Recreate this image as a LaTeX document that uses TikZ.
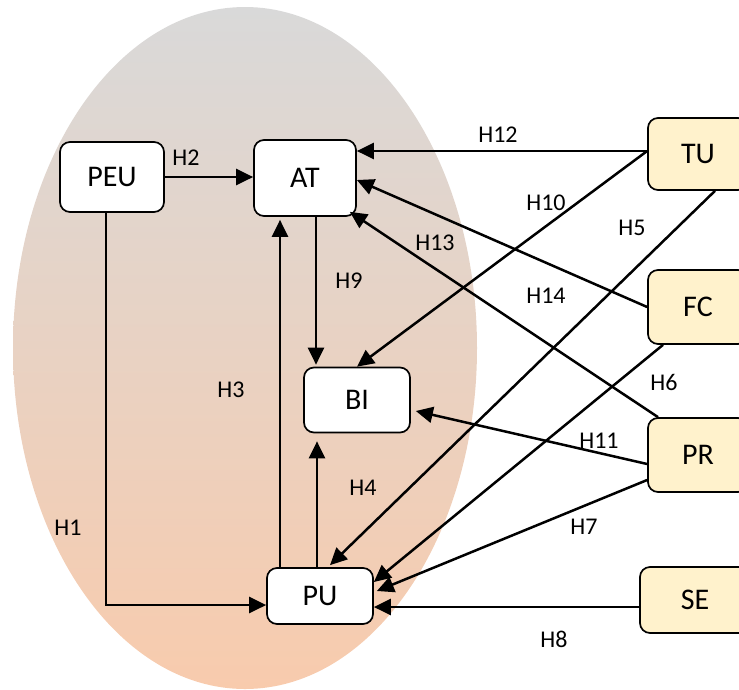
\documentclass[tikz,border=0pt]{standalone}
\usepackage{fontspec}
\setmainfont{Carlito}
\usetikzlibrary{arrows.meta,positioning,calc}
\definecolor{fog}{HTML}{D9D9D9}
\definecolor{peach}{HTML}{F8CBAD}
\definecolor{cream}{HTML}{FFF2CC}

\begin{document}
\begin{tikzpicture}[x=1pt,y=-1pt,
  box/.style={draw,line width=1.7pt,rounded corners=10pt,fill=white,font=\fontsize{30}{32}\selectfont},
  ext/.style={box,fill=cream,minimum width=100pt},
  arr/.style={-{Triangle[length=17pt,width=16pt]},line width=2.5pt},
  hyp/.style={font=\fontsize{24}{26}\selectfont}]
  \useasboundingbox (0,0) rectangle (739,689);
  \shade[top color=fog,bottom color=peach] (245,348) ellipse [x radius=232, y radius=341];
  % constructs
  \node[box,minimum width=104pt,minimum height=70pt] (PEU) at (112,177) {PEU};
  \node[box,minimum width=102pt,minimum height=76pt] (AT) at (305,178) {AT};
  \node[box,minimum width=106pt,minimum height=65pt] (BI) at (357,400) {BI};
  \node[box,minimum width=106pt,minimum height=56pt] (PU) at (320,596) {PU};
  \node[ext,minimum height=72pt] (TU) at (698,154) {TU};
  \node[ext,minimum height=74pt] (FC) at (698,307) {FC};
  \node[ext,minimum height=74pt] (PR) at (698,455) {PR};
  \node[ext,minimum width=110pt,minimum height=66pt] (SE) at (695,600) {SE};
  % paths
  \draw[arr] (PEU.east) -- (PEU.east -| AT.west);
  \draw[arr] ([xshift=-6pt]PEU.south) |- ([yshift=-9pt]PU.west);
  \draw[arr] ([xshift=-40pt]PU.north) -- ([xshift=-25pt,yshift=-3pt]AT.south);
  \draw[arr] ([xshift=11pt]AT.south) -- ([xshift=-41pt,yshift=2pt]BI.north);
  \draw[arr] ([xshift=-3pt]PU.north) -- ([xshift=-40pt,yshift=-8pt]BI.south);
  \draw[arr] ([yshift=3pt]TU.west) -- ([yshift=27pt]AT.east);
  \draw[arr] ([yshift=3pt]TU.west) -- (BI.north);
  \draw[arr] ([xshift=17pt]TU.south) -- ([xshift=10pt,yshift=2pt]PU.north);
  \draw[arr] (FC.west) -- ([yshift=-2pt]AT.east);
  \draw[arr] ([xshift=-35pt]FC.south) -- ([yshift=14pt]PU.east);
  \draw[arr] ([xshift=-40pt]PR.north) -- ([xshift=-7pt,yshift=5pt]AT.south east);
  \draw[arr] ([yshift=-9pt]PR.west) -- ([xshift=5pt,yshift=-11pt]BI.east);
  \draw[arr] ([yshift=-25pt]PR.west) -- ([xshift=3pt,yshift=5pt]PU.east);
  \draw[arr] ([yshift=-7pt]SE.west) -- ([yshift=-11pt]PU.east);
  % hypotheses
  \node[hyp] (h1) at (68,528) {H1};
  \node[hyp] (h2) at (186,158) {H2};
  \node[hyp] (h3) at (231,390) {H3};
  \node[hyp] (h4) at (363,488) {H4};
  \node[hyp] (h5) at (632,228) {H5};
  \node[hyp] (h6) at (664,382) {H6};
  \node[hyp] (h7) at (584,527) {H7};
  \node[hyp] (h8) at (554,639) {H8};
  \node[hyp] (h9) at (349,281) {H9};
  \node[hyp] (h10) at (546,203) {H10};
  \node[hyp] (h11) at (599,441) {H11};
  \node[hyp] (h12) at (498,135) {H12};
  \node[hyp] (h13) at (435,243) {H13};
  \node[hyp] (h14) at (546,296) {H14};
\end{tikzpicture}
\end{document}
